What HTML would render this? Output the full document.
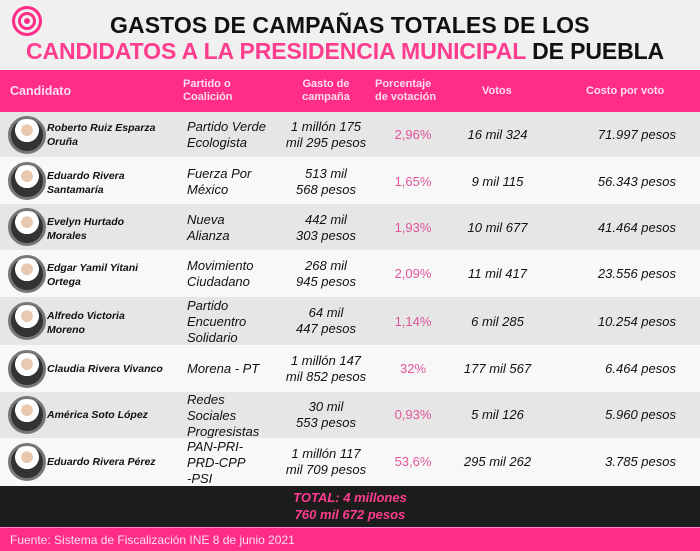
<!DOCTYPE html>
<html><head><meta charset="utf-8"><style>
*{margin:0;padding:0;box-sizing:border-box}
body{width:700px;height:551px;background:#f0f0f0;font-family:"Liberation Sans",sans-serif;position:relative;overflow:hidden}
.a{position:absolute}
.t{position:absolute;font-weight:bold;font-size:23px;white-space:nowrap}
.hd{position:absolute;top:70px;left:0;width:700px;height:42px;background:#ff2d87}
.hd div{position:absolute;color:#fde;font-weight:bold;font-size:11px;line-height:13px}
.row{position:absolute;left:0;width:700px}
.row div{position:absolute;font-style:italic;font-size:13px;line-height:16px;color:#111}
.ph{width:38px;height:38px;border-radius:50%;border:3px solid #777;background:radial-gradient(circle at 50% 35%,#e8c9b0 0 22%,#fff 23% 45%,#333 46%);left:8px}
.nm{left:47px;font-size:10.5px!important;font-weight:bold;line-height:14px!important}
.pa{left:187px}
.g{left:280px;width:92px;text-align:center}
.p{left:383px;width:60px;text-align:center;color:#e0559a!important;font-style:normal!important}
.v{left:450px;width:95px;text-align:center}
.c{right:24px;text-align:right}
</style></head><body>
<div class="a" style="left:12px;top:6px;width:30px;height:30px;border-radius:50%;border:3px solid #ff2d87;box-shadow:inset 0 0 0 3px #f0f0f0,inset 0 0 0 6px #ff2d87,inset 0 0 0 9px #f0f0f0,inset 0 0 0 12px #ff2d87"></div>
<div class="t" style="left:110px;top:12px;color:#111;letter-spacing:0.1px">GASTOS DE CAMPAÑAS TOTALES DE LOS</div>
<div class="t" style="left:26px;top:38px;color:#ff3d8f;letter-spacing:-0.1px">CANDIDATOS A LA PRESIDENCIA MUNICIPAL <span style="color:#111">DE PUEBLA</span></div>
<div class="hd">
<div style="left:10px;top:15px;font-size:12.5px">Candidato</div>
<div style="left:183px;top:8px">Partido o<br>Coalición</div>
<div style="left:290px;top:8px;width:72px;text-align:center">Gasto de<br>campaña</div>
<div style="left:375px;top:8px">Porcentaje<br>de votación</div>
<div style="left:482px;top:15px">Votos</div>
<div style="left:586px;top:15px">Costo por voto</div>
</div>
<div class="row" style="top:112px;height:45px;background:#e6e6e6"><div class="ph" style="top:4px"></div><div class="nm" style="top:9px">Roberto Ruiz Esparza<br>Oruña</div><div class="pa" style="top:7px">Partido Verde<br>Ecologista</div><div class="g" style="top:7px">1 millón 175<br>mil 295 pesos</div><div class="p" style="top:15px">2,96%</div><div class="v" style="top:15px">16 mil 324</div><div class="c" style="top:15px">71.997 pesos</div></div>
<div class="row" style="top:157px;height:47px;background:#f8f8f8"><div class="ph" style="top:5px"></div><div class="nm" style="top:12px">Eduardo Rivera<br>Santamaría</div><div class="pa" style="top:9px">Fuerza Por<br>México</div><div class="g" style="top:9px">513 mil<br>568 pesos</div><div class="p" style="top:17px">1,65%</div><div class="v" style="top:17px">9 mil 115</div><div class="c" style="top:17px">56.343 pesos</div></div>
<div class="row" style="top:204px;height:46px;background:#e6e6e6"><div class="ph" style="top:4px"></div><div class="nm" style="top:11px">Evelyn Hurtado<br>Morales</div><div class="pa" style="top:8px">Nueva<br>Alianza</div><div class="g" style="top:8px">442 mil<br>303 pesos</div><div class="p" style="top:16px">1,93%</div><div class="v" style="top:16px">10 mil 677</div><div class="c" style="top:16px">41.464 pesos</div></div>
<div class="row" style="top:250px;height:47px;background:#f8f8f8"><div class="ph" style="top:5px"></div><div class="nm" style="top:11px">Edgar Yamil Yitani<br>Ortega</div><div class="pa" style="top:8px">Movimiento<br>Ciudadano</div><div class="g" style="top:8px">268 mil<br>945 pesos</div><div class="p" style="top:16px">2,09%</div><div class="v" style="top:16px">11 mil 417</div><div class="c" style="top:16px">23.556 pesos</div></div>
<div class="row" style="top:297px;height:48px;background:#e6e6e6"><div class="ph" style="top:5px"></div><div class="nm" style="top:12px">Alfredo Victoria<br>Moreno</div><div class="pa" style="top:1px">Partido<br>Encuentro<br>Solidario</div><div class="g" style="top:8px">64 mil<br>447 pesos</div><div class="p" style="top:17px">1,14%</div><div class="v" style="top:17px">6 mil 285</div><div class="c" style="top:17px">10.254 pesos</div></div>
<div class="row" style="top:345px;height:47px;background:#f8f8f8"><div class="ph" style="top:5px"></div><div class="nm" style="top:17px">Claudia Rivera Vivanco</div><div class="pa" style="top:16px">Morena - PT</div><div class="g" style="top:8px">1 millón 147<br>mil 852 pesos</div><div class="p" style="top:16px">32%</div><div class="v" style="top:16px">177 mil 567</div><div class="c" style="top:16px">6.464 pesos</div></div>
<div class="row" style="top:392px;height:46px;background:#e6e6e6"><div class="ph" style="top:4px"></div><div class="nm" style="top:16px">América Soto López</div><div class="pa" style="top:0px">Redes<br>Sociales<br>Progresistas</div><div class="g" style="top:7px">30 mil<br>553 pesos</div><div class="p" style="top:15px">0,93%</div><div class="v" style="top:15px">5 mil 126</div><div class="c" style="top:15px">5.960 pesos</div></div>
<div class="row" style="top:438px;height:48px;background:#f8f8f8"><div class="ph" style="top:5px"></div><div class="nm" style="top:17px">Eduardo Rivera Pérez</div><div class="pa" style="top:1px">PAN-PRI-<br>PRD-CPP<br>-PSI</div><div class="g" style="top:8px">1 millón 117<br>mil 709 pesos</div><div class="p" style="top:16px">53,6%</div><div class="v" style="top:16px">295 mil 262</div><div class="c" style="top:16px">3.785 pesos</div></div>
<div class="a" style="top:486px;left:0;width:700px;height:41px;background:#1c1c1c"></div>
<div class="a" style="top:489px;left:250px;width:200px;text-align:center;color:#ff3d8f;font-weight:bold;font-style:italic;font-size:13px;line-height:17px">TOTAL: 4 millones<br>760 mil 672 pesos</div>
<div class="a" style="top:527px;left:0;width:700px;height:24px;background:#ff2d87;border-top:1px solid #f8c;color:#fde;font-size:12px;padding:5px 0 0 10px">Fuente: Sistema de Fiscalización INE 8 de junio 2021</div>
</body></html>
